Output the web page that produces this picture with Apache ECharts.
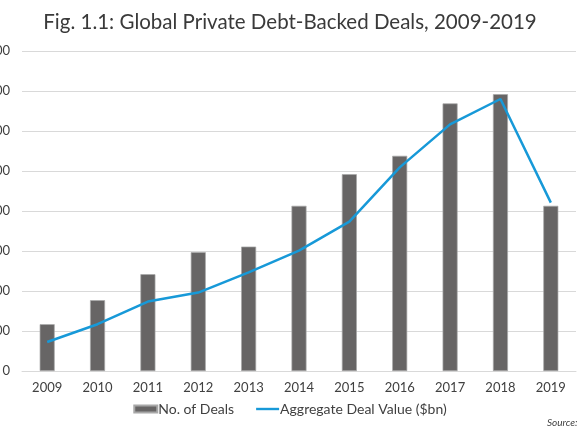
<!DOCTYPE html>
<html>
<head>
<meta charset="utf-8">
<script src="https://cdn.jsdelivr.net/npm/echarts@6/dist/echarts.min.js"></script>
<style>html,body{margin:0;padding:0;background:#fff}#c{width:580px;height:435px}</style>
</head>
<body>
<div id="c"></div>
<script>
const categories = ['2009','2010','2011','2012','2013','2014','2015','2016','2017','2018','2019'];
const noOfDeals = [117, 177, 242, 297, 311, 413, 492, 538, 669, 692, 413];
const aggregateValue = [14.5, 23.4, 34.7, 39.2, 49.3, 60.2, 74.7, 101.8, 123.3, 136, 84.2];
const leftTicks = [0, 100, 200, 300, 400, 500, 600, 700, 800];
const rightTicks = [0, 20, 40, 60, 80, 100, 120, 140, 160];

const font = 'Lato, "Noto Sans", sans-serif';
const chart = echarts.init(document.getElementById('c'));
chart.setOption({
  animation: false,
  backgroundColor: '#fff',
  title: {
    text: 'Fig. 1.1: Global Private Debt-Backed Deals, 2009-2019',
    left: 'center', top: 7,
    textStyle: { fontFamily: font, fontSize: 20.5, fontWeight: 'normal', color: '#3a3a3a' }
  },
  legend: {
    bottom: 14, left: 'center', itemGap: 22, itemWidth: 23, itemHeight: 7,
    textStyle: { fontFamily: font, fontSize: 14, color: '#404040', padding: [0, 0, 0, -4] },
    data: [
      { name: 'No. of Deals', icon: 'rect' },
      { name: 'Aggregate Deal Value ($bn)', icon: 'path://M0,0H24V2.5H0Z' }
    ]
  },
  graphic: [{
    type: 'text', left: 547, top: 418,
    style: { text: 'Source:', font: 'italic 10px ' + font, fill: '#404040' }
  }],
  grid: { left: 22, right: 4, top: 51, bottom: 64, containLabel: false, outerBoundsMode: 'none' },
  xAxis: {
    type: 'category', data: categories,
    axisTick: { show: false },
    axisLine: { lineStyle: { color: '#d9d9d9' } },
    axisLabel: { fontFamily: font, fontSize: 13, color: '#404040', margin: 10 }
  },
  yAxis: [{
    type: 'value', min: leftTicks[0], max: leftTicks[leftTicks.length - 1], interval: 100,
    axisLine: { show: false }, axisTick: { show: false },
    splitLine: { lineStyle: { color: '#d9d9d9' } },
    axisLabel: { fontFamily: font, fontSize: 13, color: '#404040', margin: 12 }
  }, {
    type: 'value', min: rightTicks[0], max: rightTicks[rightTicks.length - 1], interval: 20,
    axisLine: { show: false }, axisTick: { show: false },
    splitLine: { show: false },
    axisLabel: { fontFamily: font, fontSize: 13, color: '#404040', margin: 10 }
  }],
  series: [{
    name: 'No. of Deals', type: 'bar', data: noOfDeals, barWidth: 15,
    itemStyle: { color: '#676565', borderColor: '#a8a8a8', borderWidth: 0.7 }
  }, {
    name: 'Aggregate Deal Value ($bn)', type: 'line', yAxisIndex: 1, data: aggregateValue,
    symbol: 'none', lineStyle: { color: '#1799d8', width: 2.5 }, itemStyle: { color: '#1799d8' }
  }]
});
</script>
</body>
</html>
